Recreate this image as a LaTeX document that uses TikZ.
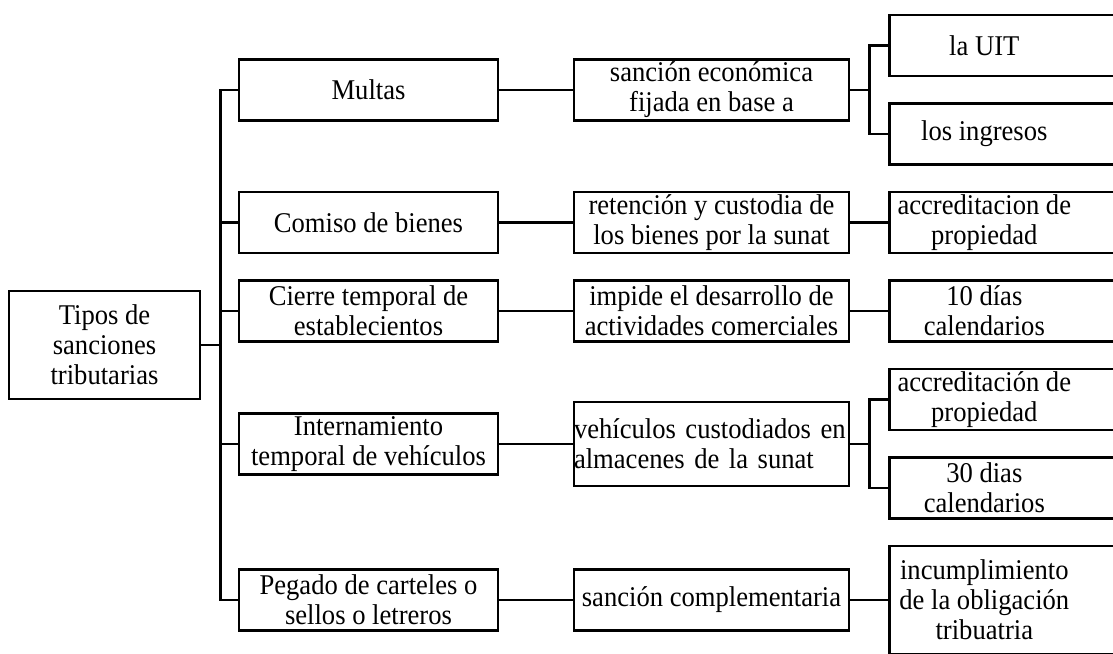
\documentclass[tikz,border=0pt]{standalone}
\usepackage{fontspec}
\setmainfont{Liberation Serif}[FakeStretch=0.93]
\usepackage{tikz}
\newcommand{\hojatexto}[1]{\parbox{95pt}{\centering #1}\hspace*{40pt}}

\begin{document}
\begin{tikzpicture}[x=0.5pt,y=-0.5pt,
    marco/.style={draw,line width=1.3pt,inner sep=0pt,
                  font=\fontsize{14.3}{15}\selectfont},
    caja/.style={marco,align=center},
    tipo/.style={caja,minimum width=129.5pt,minimum height=30.5pt},
    detalle/.style={caja,minimum width=137.5pt,minimum height=30.5pt},
    hoja/.style={marco,anchor=west,minimum height=30.5pt},
    linea/.style={line width=1.3pt}]
    \useasboundingbox (0,0) rectangle (1113,653);
    \clip (0,0) rectangle (1113,653);

    % Root
    \node[caja,minimum width=95.5pt,minimum height=54pt] (tipos) at (104.5,345) {Tipos de\\sanciones\\tributarias};

    % Types
    \node[tipo] (multas) at (368.5,90) {Multas};
    \node[tipo] (comiso) at (368.5,222.5) {Comiso de bienes};
    \node[tipo] (cierre) at (368.5,311) {Cierre temporal de\\establecientos};
    \node[tipo] (intern) at (368.5,444) {Internamiento\\temporal de vehículos};
    \node[tipo] (pegado) at (368.5,600) {Pegado de carteles o\\sellos o letreros};

    % Details
    \node[detalle] (sancion) at (711.5,90) {sanción económica\\fijada en base a};
    \node[detalle] (retencion) at (711.5,222.5) {retención y custodia de\\los bienes por la sunat};
    \node[detalle] (impide) at (711.5,311) {impide el desarrollo de\\actividades comerciales};
    \node[marco,text width=137.5pt,align=left,minimum height=42pt] (vehic) at (711.5,444) {vehículos custodiados en\\almacenes de la sunat};
    \node[detalle] (compl) at (711.5,600) {sanción complementaria};

    % Leaves
    \node[hoja] (uit) at (888,45.5) {\hojatexto{la UIT}};
    \node[hoja] (ingresos) at (888,134) {\hojatexto{los ingresos}};
    \node[hoja] (acred1) at (888,222.5) {\hojatexto{accreditacion de\\propiedad}};
    \node[hoja] (dias10) at (888,311) {\hojatexto{10 días\\calendarios}};
    \node[hoja] (acred2) at (888,399.5) {\hojatexto{accreditación de\\propiedad}};
    \node[hoja] (dias30) at (888,488) {\hojatexto{30 dias\\calendarios}};
    \node[hoja,minimum height=54pt] (incumpl) at (888,600) {\hojatexto{incumplimiento\\de la obligación\\tribuatria}};

    % Connectors
    \foreach \n in {multas,comiso,cierre,intern,pegado}
        \draw[linea] (tipos.east) -- ++(19,0) |- (\n.west);

    \draw[linea] (multas.east) -- (sancion.west);
    \draw[linea] (comiso.east) -- (retencion.west);
    \draw[linea] (cierre.east) -- (impide.west);
    \draw[linea] (intern.east) -- (vehic.west);
    \draw[linea] (pegado.east) -- (compl.west);

    \draw[linea] (sancion.east) -- ++(19,0) |- (uit.west);
    \draw[linea] (sancion.east) -- ++(19,0) |- (ingresos.west);
    \draw[linea] (retencion.east) -- (acred1.west);
    \draw[linea] (impide.east) -- (dias10.west);
    \draw[linea] (vehic.east) -- ++(19,0) |- (acred2.west);
    \draw[linea] (vehic.east) -- ++(19,0) |- (dias30.west);
    \draw[linea] (compl.east) -- (incumpl.west);
\end{tikzpicture}
\end{document}
